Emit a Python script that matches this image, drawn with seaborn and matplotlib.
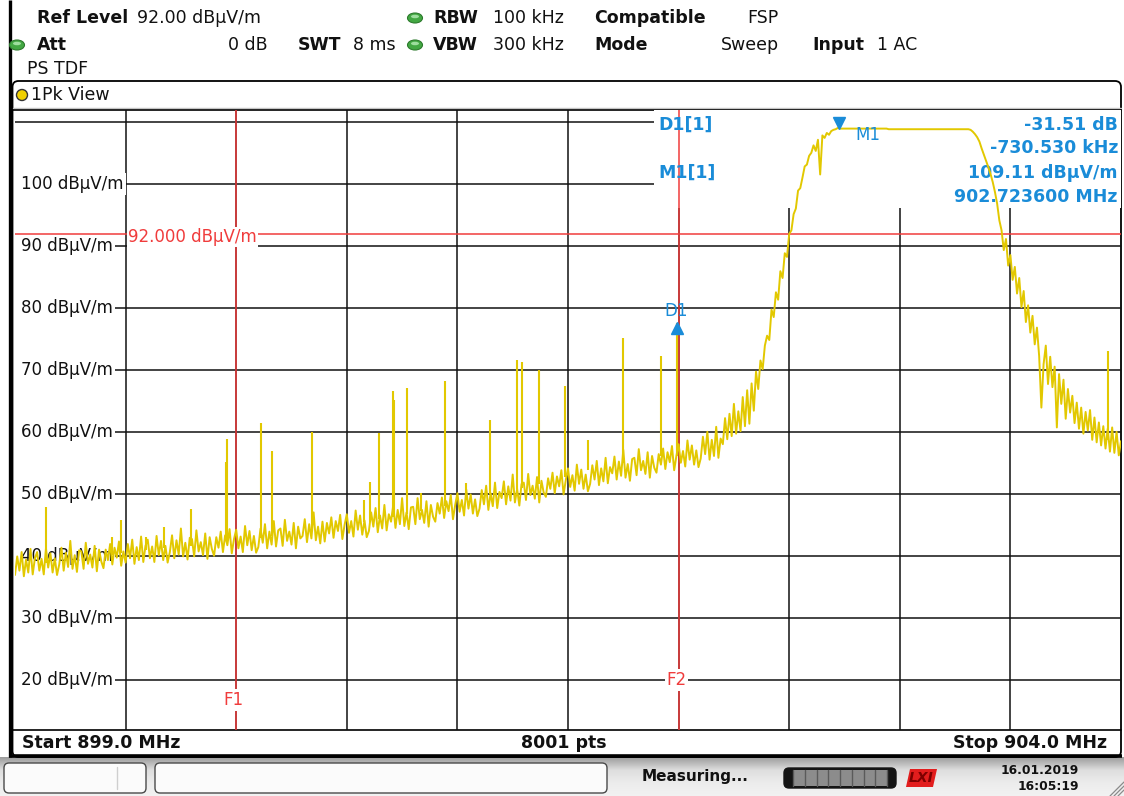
import numpy as np
import pandas as pd
import matplotlib
matplotlib.use("Agg")
import matplotlib.pyplot as plt
import matplotlib.transforms as mtransforms
from matplotlib.patches import FancyBboxPatch, Rectangle, Ellipse, Circle, Polygon
from matplotlib.colors import LinearSegmentedColormap
import seaborn as sns

# ---------------- instrument settings ----------------
start_mhz = 899.0
stop_mhz = 904.0
n_points = 8001
ref_level = 92.0
f1_mhz = 900.0
f2_mhz = 902.0
m1_mhz = 902.7236
m1_level = 109.11
d1_delta_khz = -730.530
d1_delta_db = -31.51
level_ticks = [20, 30, 40, 50, 60, 70, 80, 90, 100]
grid_levels = [20, 30, 40, 50, 60, 70, 80, 90, 100, 110]
grid_mhz = [899.5, 900.0, 900.5, 901.0, 901.5, 902.0, 902.5, 903.0, 903.5]
level_range = (12.0, 112.0)

# ---------------- trace 1 (peak), one sample every 10 kHz ----------------
trace_level = [
    37.0, 40.0, 37.7, 40.7, 36.8, 39.5, 37.4, 41.2, 37.1, 39.7,   # 899.0
    40.7, 37.7, 39.6, 37.1, 41.3, 38.2, 40.5, 37.4, 39.7, 37.0,   # 899.1
    38.7, 41.4, 37.7, 40.6, 38.3, 42.5, 38.0, 40.2, 37.5, 41.0,   # 899.2
    40.8, 38.0, 42.2, 38.8, 40.3, 38.2, 41.7, 37.6, 41.1, 39.2,   # 899.3
    38.1, 41.1, 39.4, 42.0, 38.7, 41.4, 39.8, 42.4, 38.5, 40.8,   # 899.4
    39.0, 42.0, 39.7, 42.7, 38.8, 41.5, 39.4, 43.2, 39.1, 41.7,   # 899.5
    42.7, 39.7, 41.6, 39.1, 43.3, 40.2, 42.5, 39.4, 41.7, 39.0,   # 899.6
    40.7, 43.4, 39.7, 42.6, 40.3, 44.5, 40.0, 42.2, 39.5, 43.0,   # 899.7
    42.8, 40.0, 44.2, 40.8, 42.3, 40.2, 43.7, 39.6, 43.1, 41.2,   # 899.8
    40.1, 43.1, 41.4, 44.0, 40.7, 43.4, 41.8, 44.4, 40.5, 42.8,   # 899.9
    44.3, 41.3, 43.2, 40.7, 44.9, 41.8, 44.1, 41.0, 43.3, 40.6,   # 900.0
    41.5, 44.5, 42.2, 45.2, 41.3, 44.0, 41.9, 45.7, 41.6, 44.2,   # 900.1
    44.5, 41.7, 45.9, 42.5, 44.0, 41.9, 45.4, 41.3, 44.8, 42.9,   # 900.2
    43.3, 46.0, 42.3, 45.2, 42.9, 47.1, 42.6, 44.8, 42.1, 45.6,   # 900.3
    42.4, 45.4, 43.7, 46.3, 43.0, 45.7, 44.1, 46.7, 42.8, 45.1,   # 900.4
    46.8, 43.8, 45.7, 43.2, 47.4, 44.3, 46.6, 43.5, 45.8, 43.1,   # 900.5
    44.1, 47.1, 44.8, 47.8, 43.9, 46.6, 44.5, 48.3, 44.2, 46.8,   # 900.6
    45.6, 48.3, 44.6, 47.5, 45.2, 49.4, 44.9, 47.1, 44.4, 47.9,   # 900.7
    48.0, 45.2, 49.4, 46.0, 47.5, 45.4, 48.9, 44.8, 48.3, 46.4,   # 900.8
    45.6, 48.6, 46.9, 49.5, 46.2, 48.9, 47.3, 49.9, 46.0, 48.3,   # 900.9
    50.2, 47.2, 49.1, 46.6, 50.8, 47.7, 50.0, 46.9, 49.2, 46.5,   # 901.0
    47.7, 50.7, 48.4, 51.4, 47.5, 50.2, 48.1, 51.9, 47.8, 50.4,   # 901.1
    49.4, 52.1, 48.4, 51.3, 49.0, 53.2, 48.7, 50.9, 48.2, 51.7,   # 901.2
    51.9, 49.1, 53.3, 49.9, 51.4, 49.3, 52.8, 48.7, 52.2, 50.3,   # 901.3
    49.6, 52.6, 50.9, 53.5, 50.2, 52.9, 51.3, 53.9, 50.0, 52.3,   # 901.4
    54.2, 51.2, 53.1, 50.6, 54.8, 51.7, 54.0, 50.9, 53.2, 50.5,   # 901.5
    51.7, 54.7, 52.4, 55.4, 51.5, 54.2, 52.1, 55.9, 51.8, 54.4,   # 901.6
    53.4, 56.1, 52.4, 55.3, 53.0, 57.2, 52.7, 54.9, 52.2, 55.7,   # 901.7
    55.9, 53.1, 57.3, 53.9, 55.4, 53.3, 56.8, 52.7, 56.2, 54.3,   # 901.8
    53.5, 56.5, 54.8, 57.4, 54.1, 56.8, 55.2, 57.8, 53.9, 56.2,   # 901.9
    58.1, 55.1, 57.0, 54.5, 58.7, 55.6, 57.9, 54.8, 57.1, 54.4,   # 902.0
    55.8, 59.3, 56.5, 60.1, 55.6, 58.8, 56.2, 60.9, 55.9, 59.0,   # 902.1
    58.1, 62.3, 58.9, 63.0, 59.4, 64.6, 59.8, 63.4, 60.2, 65.7,   # 902.2
    61.0, 66.8, 61.4, 67.9, 63.5, 69.8, 67.0, 71.6, 70.2, 74.0,   # 902.3
    75.6, 74.9, 79.8, 78.6, 82.6, 81.4, 86.0, 84.9, 88.9, 88.3,   # 902.4
    92.0, 92.6, 95.2, 96.1, 99.0, 99.4, 101.1, 102.9, 103.2, 104.6,   # 902.5
    105.1, 106.3, 105.4, 107.2, 101.6, 107.9, 107.5, 108.3, 108.0, 108.6,  # 902.6
    108.8, 108.9, 109.11, 109.0, 109.0, 109.0, 109.0, 109.0, 109.0, 109.0,  # 902.7
    109.0, 109.0, 109.0, 109.0, 109.0, 109.0, 109.0, 109.0, 109.0, 109.0,  # 902.8
    109.0, 109.0, 109.0, 109.0, 109.0, 108.9, 108.9, 108.9, 108.9, 108.9,  # 902.9
    108.9, 108.9, 108.9, 108.9, 108.9, 108.9, 108.9, 108.9, 108.9, 108.9,  # 903.0
    108.9, 108.9, 108.9, 108.9, 108.9, 108.9, 108.9, 108.9, 108.9, 108.9,  # 903.1
    108.9, 108.9, 108.9, 108.9, 108.9, 108.9, 108.9, 108.9, 108.9, 108.9,  # 903.2
    108.9, 108.9, 108.8, 108.5, 108.1, 107.6, 106.9, 105.8, 104.8, 103.8,  # 903.3
    102.8, 101.7, 100.4, 98.8, 96.9, 94.2, 92.6, 89.4, 91.2, 86.9,   # 903.4
    88.6, 84.6, 86.7, 82.4, 84.9, 80.2, 82.8, 77.8, 80.5, 76.1,   # 903.5
    78.8, 74.2, 76.9, 72.3, 64.0, 71.0, 74.0, 67.8, 72.2, 67.3,   # 903.6
    70.6, 60.8, 69.4, 64.6, 68.5, 62.2, 67.0, 63.2, 65.9, 61.5,   # 903.7
    64.8, 60.6, 64.0, 59.8, 63.3, 60.3, 63.6, 58.8, 62.4, 58.4,   # 903.8
    61.6, 57.9, 61.0, 57.4, 60.6, 56.9, 60.8, 56.7, 60.1, 56.3,   # 903.9
    58.6,                                                         # 904.0
]

# narrow spurs riding on the noise floor
spike_mhz = [899.139, 899.440, 899.479, 899.591, 899.674, 899.796, 899.955, 899.960,
             900.112, 900.163, 900.343, 900.579, 900.605, 900.646, 900.708, 900.714,
             900.771, 900.835, 900.944, 901.039, 901.146, 901.268, 901.292, 901.369,
             901.485, 901.592, 901.749, 901.921, 903.940]
spike_base = [39.0, 40.2, 40.5, 41.0, 41.3, 41.7, 42.5, 42.5,
              43.0, 43.3, 44.1, 45.5, 45.6, 46.0, 46.4, 46.4,
              46.8, 47.3, 48.2, 49.1, 50.1, 50.8, 51.1, 51.6,
              52.8, 54.0, 55.0, 56.2, 58.7]
spike_peak = [47.9, 43.2, 45.9, 43.2, 44.8, 47.7, 55.3, 59.0,
              61.5, 57.0, 60.1, 49.1, 52.0, 59.9, 66.7, 65.2,
              67.1, 50.2, 68.3, 51.8, 62.0, 71.7, 71.4, 70.0,
              67.5, 58.8, 75.2, 72.3, 73.2]

# ---------------- colours ----------------
TRACE = "#e2c800"
BLUE = "#1a8cd8"
RED = "#f03c3c"
GRID = "#111111"
INK = "#111111"

W, H = 1124, 796
sns.set_style("white")
plt.rcParams["font.family"] = ["DejaVu Sans"]

fig = plt.figure(figsize=(W / 100, H / 100), dpi=100)
fig.patch.set_facecolor("white")

# pixel-space canvas for the instrument frame
bg = fig.add_axes([0, 0, 1, 1], zorder=0)
bg.set_xlim(0, W)
bg.set_ylim(H, 0)
bg.axis("off")
pix = bg.transData

# diagram area
PL, PT, PR, PB = 15, 110, 1121, 730
ax = fig.add_axes([PL / W, 1 - PB / H, (PR - PL) / W, (PB - PT) / H], zorder=1)

# ---------- frame, header and status line ----------
bg.plot([9.5, 9.5], [0, 757], color="black", lw=2.4, solid_capstyle="butt")
panel = FancyBboxPatch((12.5, 81), PR - 12.5, 676, boxstyle="round,pad=0,rounding_size=6",
                       fc="white", ec="black", lw=1.3, zorder=1)
bg.add_patch(panel)
bg.plot([13, PR], [107.5, 107.5], color="#c4c4c4", lw=1.0, zorder=2)
bg.plot([13, PR], [PT, PT], color="black", lw=1.2, zorder=3)
bg.plot([13, PR], [PB, PB], color="black", lw=1.2, zorder=3)
bg.plot([9, PR + 1], [756, 756], color="black", lw=2.6, zorder=3, solid_capstyle="butt")

hdr = dict(fontsize=12.5, color=INK, va="center")
bold = dict(hdr, fontweight="bold")
bg.text(37, 18, "Ref Level", **bold)
bg.text(137, 18, "92.00 dBµV/m", **hdr)
bg.text(433, 18, "RBW", **bold)
bg.text(493, 18, "100 kHz", **hdr)
bg.text(594, 18, "Compatible", **bold)
bg.text(747, 18, "FSP", **hdr)
bg.text(37, 45, "Att", **bold)
bg.text(268, 45, "0 dB", ha="right", **hdr)
bg.text(298, 45, "SWT", **bold)
bg.text(353, 45, "8 ms", **hdr)
bg.text(433, 45, "VBW", **bold)
bg.text(493, 45, "300 kHz", **hdr)
bg.text(594, 45, "Mode", **bold)
bg.text(721, 45, "Sweep", **hdr)
bg.text(812, 45, "Input", **bold)
bg.text(877, 45, "1 AC", **hdr)
bg.text(27, 69, "PS TDF", **hdr)
for cx, cy in [(415, 18), (17, 45), (415, 45)]:
    bg.add_patch(Ellipse((cx, cy), 15, 10, fc="#43a843", ec="#2d7a2d", lw=0.8, zorder=3))
    bg.add_patch(Ellipse((cx, cy - 1.5), 8, 3.5, fc="#9ede9e", ec="none", zorder=4))

bg.add_patch(Circle((22, 95), 5.5, fc="#f0d000", ec="#333333", lw=1.0, zorder=3))
bg.text(31, 95, "1Pk View", **hdr)

bg.text(22, 743, "Start 899.0 MHz", fontsize=12.5, fontweight="bold", color=INK, va="center")
bg.text(564, 743, "8001 pts", fontsize=12.5, fontweight="bold", color=INK, va="center", ha="center")
bg.text(1107, 743, "Stop 904.0 MHz", fontsize=12.5, fontweight="bold", color=INK, va="center", ha="right")

status_cmap = LinearSegmentedColormap.from_list("status", ["#9c9c9c", "#dedede", "#ececec", "#f2f2f2"])
bg.imshow(np.linspace(0, 1, 64).reshape(-1, 1), cmap=status_cmap, aspect="auto",
          extent=(0, W, H, 757.5), origin="upper", zorder=0)
for x0, x1 in [(4, 146), (155, 607)]:
    bg.add_patch(FancyBboxPatch((x0, 763), x1 - x0, 30, boxstyle="round,pad=0,rounding_size=5",
                                fc="#fbfbfb", ec="#4a4a4a", lw=1.0, zorder=2))
bg.plot([117, 117], [767, 789], color="#cfcfcf", lw=1.0, zorder=3)
bg.text(642, 777, "Measuring...", fontsize=11, fontweight="bold", color=INK, va="center")
bg.add_patch(FancyBboxPatch((784, 768), 112, 20, boxstyle="round,pad=0,rounding_size=5",
                            fc="#151515", ec="#151515", lw=1.0, zorder=2))
bg.add_patch(Rectangle((793, 770), 94, 16, fc="#8c8c8c", ec="none", zorder=3))
for sx in np.arange(793, 888, 11.75):
    bg.plot([sx, sx], [770, 786], color="#5a5a5a", lw=1.0, zorder=4)
bg.add_patch(Polygon([[910, 769], [937, 769], [933, 787], [906, 787]], closed=True,
                     fc="#e21d1d", ec="none", zorder=2))
bg.text(921.5, 778, "LXI", fontsize=10, fontweight="bold", fontstyle="italic",
        color="#7d0000", ha="center", va="center", zorder=3)
bg.text(1079, 771, "16.01.2019", fontsize=8.8, fontweight="bold", color=INK, ha="right", va="center")
bg.text(1079, 786, "16:05:19", fontsize=8.8, fontweight="bold", color=INK, ha="right", va="center")
for k in range(3):
    bg.plot([1110 + 4 * k, 1124], [796, 782 + 4 * k], color="#8a8a8a", lw=0.9)

# ---------- diagram ----------
ax.set_axis_off()
ylab_tf = mtransforms.blended_transform_factory(pix, ax.transData)
for lv in grid_levels:
    x_from = 21 if lv in level_ticks else PL
    ax.plot([x_from, PR], [lv, lv], transform=ylab_tf, color=GRID, lw=1.1, zorder=1,
            clip_on=False, solid_capstyle="butt")
for fm in grid_mhz:
    ax.axvline(fm, color=GRID, lw=1.1, zorder=1)

# marker info field covers the grid in the upper right corner
ax.add_patch(Rectangle((654, PT), PR - 654, 208 - PT, transform=pix, fc="white", ec="none",
                       zorder=2, clip_on=False))

ax.axhline(ref_level, color=RED, lw=1.1, zorder=3)
ax.axvline(f1_mhz, color=RED, lw=1.1, zorder=3)
ax.axvline(f2_mhz, color=RED, lw=1.1, zorder=3)

for lv in level_ticks:
    ax.text(21, lv, f"{lv} dBµV/m", transform=ylab_tf, fontsize=12, color=INK, ha="left",
            va="center", zorder=3.5,
            bbox=dict(boxstyle="square,pad=0.12", fc="white", ec="none"))
ax.text(128, 237, f"{ref_level:.3f} dBµV/m", transform=pix, fontsize=12, color=RED,
        ha="left", va="center", zorder=3.6,
        bbox=dict(boxstyle="square,pad=0.05", fc="white", ec="none"))
fl_tf = mtransforms.blended_transform_factory(ax.transData, pix)
ax.text(f1_mhz - 0.012, 700, "F1", transform=fl_tf, fontsize=12, color=RED, ha="center",
        va="center", zorder=3.6, bbox=dict(boxstyle="square,pad=0.1", fc="white", ec="none"))
ax.text(f2_mhz - 0.01, 680, "F2", transform=fl_tf, fontsize=12, color=RED, ha="center",
        va="center", zorder=3.6, bbox=dict(boxstyle="square,pad=0.1", fc="white", ec="none"))

# trace
freq = np.linspace(start_mhz, stop_mhz, len(trace_level))
trace = pd.DataFrame({"freq": freq, "level": trace_level})
sns.lineplot(data=trace, x="freq", y="level", ax=ax, color=TRACE, linewidth=1.4,
             estimator=None, sort=False, legend=False, zorder=5)
ax.vlines(spike_mhz, spike_base, spike_peak, color=TRACE, lw=1.5, zorder=5)

d1_mhz = m1_mhz + d1_delta_khz / 1000.0
d1_level = m1_level + d1_delta_db
d1_floor = trace_level[int(np.argmin(np.abs(freq - d1_mhz)))]
ax.vlines([d1_mhz], [d1_floor], [d1_level], color=TRACE, lw=1.5, zorder=5)

ax.set_xlim(start_mhz, stop_mhz)
ax.set_ylim(*level_range)

# markers
up = mtransforms.offset_copy(ax.transData, fig=fig, x=0, y=5, units="dots")
down = mtransforms.offset_copy(ax.transData, fig=fig, x=0, y=-5, units="dots")
ax.plot([m1_mhz], [m1_level], marker="v", ms=9, color=BLUE, transform=up, zorder=7, clip_on=False)
ax.plot([d1_mhz], [d1_level], marker="^", ms=9, color=BLUE, transform=down, zorder=7, clip_on=False)
ax.annotate("M1", (m1_mhz, m1_level), xytext=(17, -7), textcoords="offset pixels",
            color=BLUE, fontsize=12, ha="left", va="center", zorder=7)
ax.annotate("D1", (d1_mhz, d1_level), xytext=(-1, 12), textcoords="offset pixels",
            color=BLUE, fontsize=12, ha="center", va="center", zorder=7)

info = dict(transform=pix, fontsize=12.5, fontweight="bold", color=BLUE, va="center", zorder=4)
ax.text(658, 125, "D1[1]", ha="left", **info)
ax.text(658, 173, "M1[1]", ha="left", **info)
ax.text(1118, 125, f"{d1_delta_db:.2f} dB", ha="right", **info)
ax.text(1118, 148, f"{d1_delta_khz:.3f} kHz", ha="right", **info)
ax.text(1118, 173, f"{m1_level:.2f} dBµV/m", ha="right", **info)
ax.text(1118, 197, f"{m1_mhz:.6f} MHz", ha="right", **info)

fig.savefig("out.png", dpi=100)
